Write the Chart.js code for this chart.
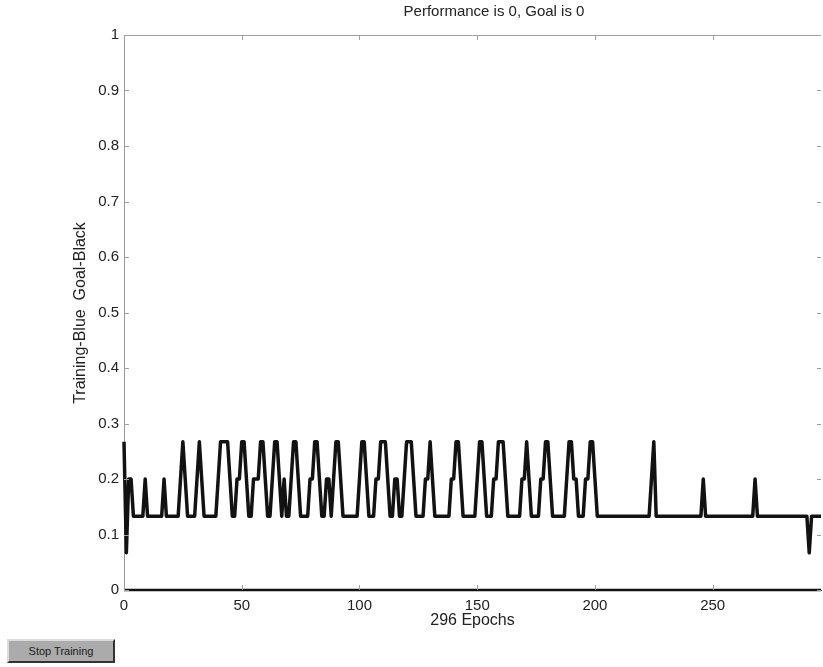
<!DOCTYPE html>
<html lang="en">

<head>
    <meta charset="UTF-8">
    <meta name="viewport" content="width=device-width, initial-scale=1.0">
    <script src="https://cdn.jsdelivr.net/npm/chart.js@4.4.0/dist/chart.umd.min.js"></script>
    <title>Training</title>
    <style>
        body { margin: 0; background: #fff; }
        .plotbox { position: absolute; left: 0; top: 0; width: 823px; height: 667px; }
        .stopbtn {
            position: absolute; left: 7px; top: 639px; width: 104px; height: 20px;
            background: #ababab; color: #1a1a1a;
            border: 2px solid; border-color: #dcdcdc #333 #333 #dcdcdc;
            font: 11px "Liberation Sans", Arial, sans-serif; line-height: 20px; text-align: center;
        }
    </style>
</head>

<body>
    <div class="plotbox"><canvas id="myChart" width="823" height="667"></canvas></div>
    <div class="stopbtn">Stop Training</div>
</body>

</html>
<script>
    // misclassification rate per epoch (epoch 0..296)
    const trainError = [
        0.267, 0.067, 0.2, 0.2, 0.133, 0.133, 0.133, 0.133, 0.133, 0.2,
        0.133, 0.133, 0.133, 0.133, 0.133, 0.133, 0.133, 0.2, 0.133, 0.133,
        0.133, 0.133, 0.133, 0.133, 0.2, 0.267, 0.2, 0.133, 0.133, 0.133,
        0.133, 0.2, 0.267, 0.2, 0.133, 0.133, 0.133, 0.133, 0.133, 0.133,
        0.2, 0.267, 0.267, 0.267, 0.267, 0.2, 0.133, 0.133, 0.2, 0.2,
        0.267, 0.267, 0.2, 0.133, 0.133, 0.2, 0.2, 0.2, 0.267, 0.267,
        0.2, 0.133, 0.133, 0.2, 0.267, 0.267, 0.2, 0.133, 0.2, 0.133,
        0.133, 0.2, 0.267, 0.267, 0.2, 0.133, 0.133, 0.133, 0.133, 0.2,
        0.2, 0.267, 0.267, 0.2, 0.133, 0.133, 0.2, 0.2, 0.133, 0.2,
        0.267, 0.267, 0.2, 0.133, 0.133, 0.133, 0.133, 0.133, 0.133, 0.133,
        0.2, 0.267, 0.267, 0.2, 0.133, 0.133, 0.133, 0.2, 0.2, 0.267,
        0.267, 0.267, 0.2, 0.133, 0.133, 0.2, 0.2, 0.133, 0.133, 0.2,
        0.267, 0.267, 0.267, 0.2, 0.133, 0.133, 0.133, 0.133, 0.2, 0.2,
        0.267, 0.2, 0.133, 0.133, 0.133, 0.133, 0.133, 0.133, 0.133, 0.2,
        0.2, 0.267, 0.267, 0.2, 0.133, 0.133, 0.133, 0.133, 0.133, 0.133,
        0.2, 0.267, 0.267, 0.2, 0.133, 0.133, 0.133, 0.2, 0.2, 0.267,
        0.267, 0.267, 0.2, 0.133, 0.133, 0.133, 0.133, 0.133, 0.133, 0.2,
        0.2, 0.267, 0.2, 0.133, 0.133, 0.133, 0.133, 0.2, 0.2, 0.267,
        0.267, 0.2, 0.133, 0.133, 0.133, 0.133, 0.133, 0.133, 0.2, 0.267,
        0.267, 0.2, 0.2, 0.133, 0.133, 0.133, 0.2, 0.2, 0.267, 0.267,
        0.2, 0.133, 0.133, 0.133, 0.133, 0.133, 0.133, 0.133, 0.133, 0.133,
        0.133, 0.133, 0.133, 0.133, 0.133, 0.133, 0.133, 0.133, 0.133, 0.133,
        0.133, 0.133, 0.133, 0.133, 0.2, 0.267, 0.133, 0.133, 0.133, 0.133,
        0.133, 0.133, 0.133, 0.133, 0.133, 0.133, 0.133, 0.133, 0.133, 0.133,
        0.133, 0.133, 0.133, 0.133, 0.133, 0.133, 0.2, 0.133, 0.133, 0.133,
        0.133, 0.133, 0.133, 0.133, 0.133, 0.133, 0.133, 0.133, 0.133, 0.133,
        0.133, 0.133, 0.133, 0.133, 0.133, 0.133, 0.133, 0.133, 0.2, 0.133,
        0.133, 0.133, 0.133, 0.133, 0.133, 0.133, 0.133, 0.133, 0.133, 0.133,
        0.133, 0.133, 0.133, 0.133, 0.133, 0.133, 0.133, 0.133, 0.133, 0.133,
        0.133, 0.067, 0.133, 0.133, 0.133, 0.133, 0.133
    ];
    // performance goal
    const goalEpochs = [0, 296];
    const goalValues = [0, 0];

    const xTicks = [0, 50, 100, 150, 200, 250];
    const yTicks = [0, 0.1, 0.2, 0.3, 0.4, 0.5, 0.6, 0.7, 0.8, 0.9, 1];

    const titleText = 'Performance is 0, Goal is 0';
    const xTitle = '296 Epochs';
    const yTitle = 'Training-Blue  Goal-Black';

    const FONT = '"Liberation Sans", Arial, sans-serif';

    // frame, inward ticks and text, drawn the matlab way
    const matlabFrame = {
        id: 'matlabFrame',
        afterDraw(chart) {
            const ctx = chart.ctx;
            const a = chart.chartArea;
            const xs = chart.scales.x, ys = chart.scales.y;
            ctx.save();
            ctx.strokeStyle = '#a0a0a0';
            ctx.lineWidth = 1;
            ctx.beginPath();
            ctx.moveTo(a.left, a.top + 0.5); ctx.lineTo(a.right, a.top + 0.5);
            xTicks.forEach(v => {
                const px = Math.round(xs.getPixelForValue(v)) + 0.5;
                ctx.moveTo(px, a.bottom); ctx.lineTo(px, a.bottom - 5);
                ctx.moveTo(px, a.top); ctx.lineTo(px, a.top + 5);
            });
            yTicks.forEach(v => {
                const py = Math.round(ys.getPixelForValue(v)) + 0.5;
                ctx.moveTo(a.left, py); ctx.lineTo(a.left + 5, py);
                ctx.moveTo(a.right, py); ctx.lineTo(a.right - 4, py);
            });
            ctx.stroke();

            ctx.fillStyle = '#222';
            ctx.textAlign = 'center';
            ctx.textBaseline = 'middle';
            ctx.font = '15px ' + FONT;
            ctx.fillText(titleText, 494, 12);
            ctx.font = '16px ' + FONT;
            ctx.fillText(xTitle, (a.left + a.right) / 2, 621);
            ctx.translate(81, 313);
            ctx.rotate(-Math.PI / 2);
            ctx.fillText(yTitle, 0, 0);
            ctx.restore();
        }
    };

    const ctx = document.getElementById('myChart').getContext('2d');
    const myChart = new Chart(ctx, {
        type: 'line',
        data: {
            datasets: [{
                label: 'Goal',
                data: goalEpochs.map((e, i) => ({ x: e, y: goalValues[i] })),
                borderColor: '#111',
                borderWidth: 2.5,
                pointRadius: 0,
                clip: false
            }, {
                label: 'Training',
                data: trainError.map((v, i) => ({ x: i, y: v })),
                borderColor: '#121212',
                borderWidth: 3.5,
                pointRadius: 0,
                tension: 0,
                borderJoinStyle: 'round',
                clip: false
            }]
        },
        options: {
            responsive: false,
            animation: false,
            layout: { padding: { top: 35, right: 2, left: 0, bottom: 0 } },
            plugins: { legend: { display: false }, tooltip: { enabled: false } },
            scales: {
                x: {
                    type: 'linear',
                    min: 0,
                    max: 296,
                    afterBuildTicks: s => { s.ticks = xTicks.map(v => ({ value: v })); },
                    afterFit: s => { s.height = 77; },
                    grid: { drawOnChartArea: false, drawTicks: false },
                    border: { color: '#333', width: 1 },
                    ticks: { padding: 7, color: '#222', font: { family: FONT, size: 15 }, maxRotation: 0 }
                },
                y: {
                    min: 0,
                    max: 1,
                    afterBuildTicks: s => { s.ticks = yTicks.map(v => ({ value: v })); },
                    afterFit: s => { s.width = 124; },
                    grid: { drawOnChartArea: false, drawTicks: false },
                    border: { color: '#999', width: 1 },
                    ticks: { padding: 5, color: '#222', font: { family: FONT, size: 15 }, callback: v => String(+v.toFixed(1)) }
                }
            }
        },
        plugins: [matlabFrame]
    });
</script>
